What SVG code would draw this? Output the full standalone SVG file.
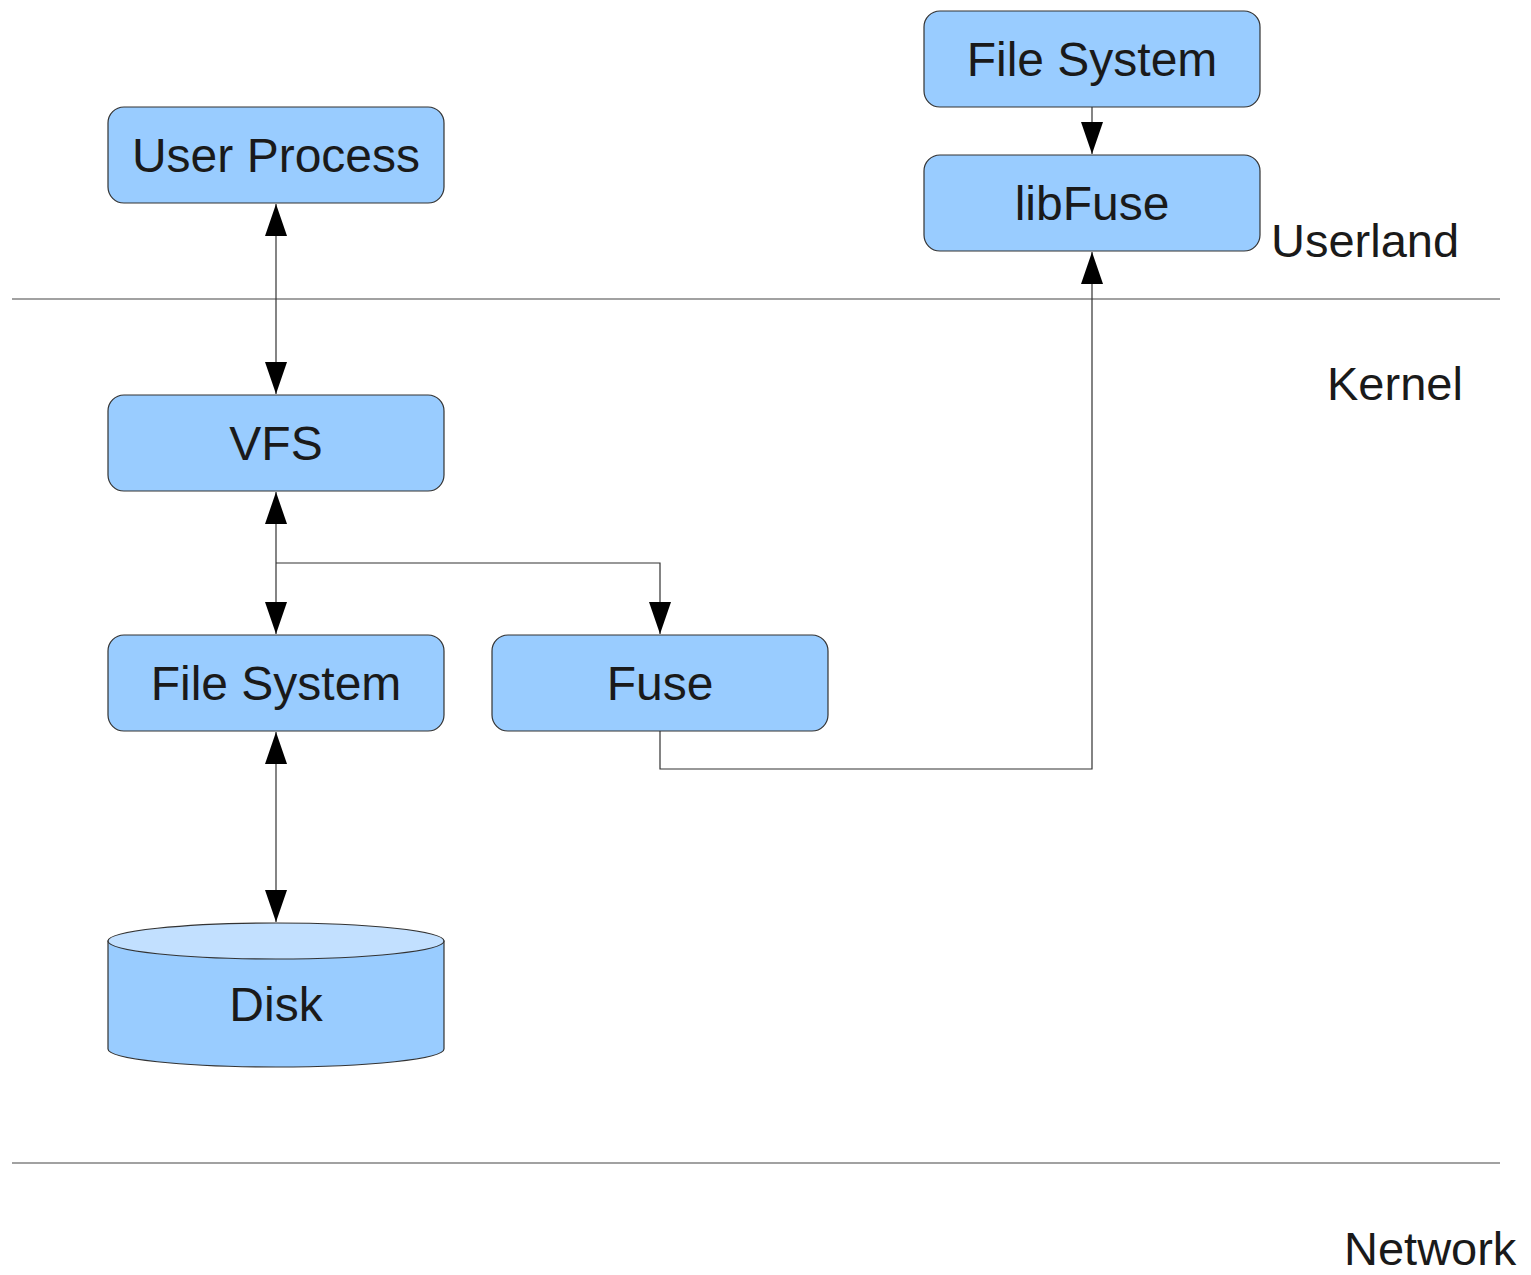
<svg xmlns="http://www.w3.org/2000/svg" width="1531" height="1275" viewBox="0 0 1531 1275">
  <style>
    .box { fill: #99ccff; stroke: #333333; stroke-width: 1.2; }
    .top { fill: #c2e0ff; stroke: #333333; stroke-width: 1.2; }
    .lbl { font-family: "Liberation Sans", Arial, sans-serif; font-size: 48px; fill: #1a1a1a; text-anchor: middle; }
    .zone { font-family: "Liberation Sans", Arial, sans-serif; font-size: 47px; fill: #1a1a1a; }
    .wire { fill: none; stroke: #333333; stroke-width: 1.2; }
    .sep { stroke: #444444; stroke-width: 1.2; }
  </style>
  <defs>
    <marker id="arr" markerUnits="userSpaceOnUse" markerWidth="34" markerHeight="24" viewBox="0 0 34 24" refX="32" refY="12" orient="auto">
      <path d="M0,1 L32,12 L0,23 Z" fill="#000000"/>
    </marker>
    <marker id="arrStart" markerUnits="userSpaceOnUse" markerWidth="34" markerHeight="24" viewBox="0 0 34 24" refX="32" refY="12" orient="auto-start-reverse">
      <path d="M0,1 L32,12 L0,23 Z" fill="#000000"/>
    </marker>
  </defs>

  <!-- layer separators -->
  <g id="separators">
    <line class="sep" x1="12" y1="299" x2="1500" y2="299"/>
    <line class="sep" x1="12" y1="1163" x2="1500" y2="1163"/>
  </g>

  <!-- layer names -->
  <g id="zones">
    <text class="zone" x="1271" y="257">Userland</text>
    <text class="zone" x="1327" y="400">Kernel</text>
    <text class="zone" x="1344" y="1265">Network</text>
  </g>

  <!-- connectors -->
  <g id="connectors">
    <path class="wire" d="M276,204 L276,394" marker-start="url(#arrStart)" marker-end="url(#arr)"/>
    <path class="wire" d="M276,492 L276,634" marker-start="url(#arrStart)" marker-end="url(#arr)"/>
    <path class="wire" d="M276,563 L660,563 L660,634" marker-end="url(#arr)"/>
    <path class="wire" d="M660,731 L660,769 L1092,769 L1092,252" marker-end="url(#arr)"/>
    <path class="wire" d="M1092,107 L1092,154" marker-end="url(#arr)"/>
    <path class="wire" d="M276,732 L276,922" marker-start="url(#arrStart)" marker-end="url(#arr)"/>
  </g>

  <g id="user-process">
    <rect class="box" x="108" y="107" width="336" height="96" rx="16"/>
    <text class="lbl" x="276" y="172">User Process</text>
  </g>

  <g id="vfs">
    <rect class="box" x="108" y="395" width="336" height="96" rx="16"/>
    <text class="lbl" x="276" y="460">VFS</text>
  </g>

  <g id="kernel-fs">
    <rect class="box" x="108" y="635" width="336" height="96" rx="16"/>
    <text class="lbl" x="276" y="700">File System</text>
  </g>

  <g id="fuse">
    <rect class="box" x="492" y="635" width="336" height="96" rx="16"/>
    <text class="lbl" x="660" y="700">Fuse</text>
  </g>

  <g id="user-fs">
    <rect class="box" x="924" y="11" width="336" height="96" rx="16"/>
    <text class="lbl" x="1092" y="76">File System</text>
  </g>

  <g id="libfuse">
    <rect class="box" x="924" y="155" width="336" height="96" rx="16"/>
    <text class="lbl" x="1092" y="220">libFuse</text>
  </g>

  <g id="disk">
    <path class="box" d="M108,941 L108,1049 A168,18 0 0 0 444,1049 L444,941 Z"/>
    <ellipse class="top" cx="276" cy="941" rx="168" ry="18"/>
    <text class="lbl" x="276" y="1021">Disk</text>
  </g>
</svg>
